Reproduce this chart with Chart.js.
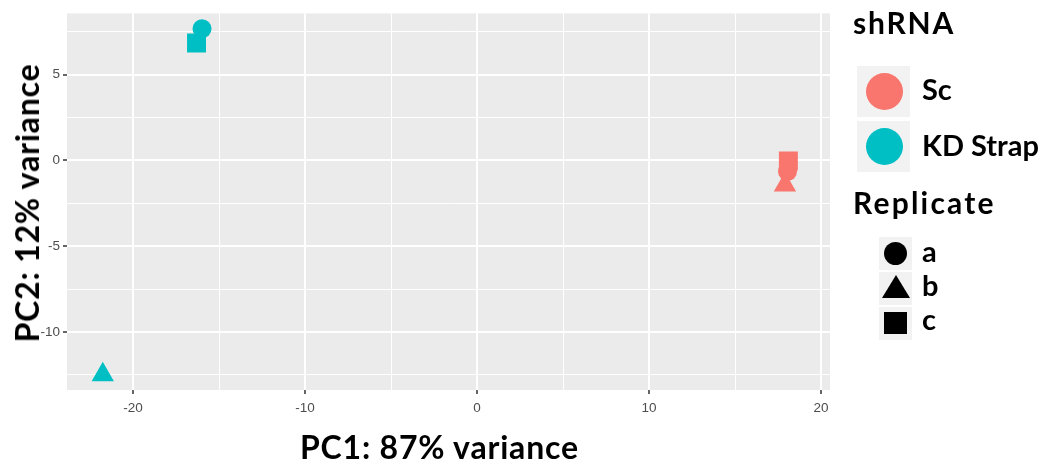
<!DOCTYPE html>
<html>
<head>
<meta charset="utf-8">
<script src="https://cdn.jsdelivr.net/npm/chart.js@4.4.1/dist/chart.umd.min.js"></script>
<style>
  html, body { margin: 0; padding: 0; background: #ffffff; }
  #wrap { position: relative; width: 1042px; height: 466px; overflow: hidden; }
  #c { position: absolute; left: 0; top: 0; }
  .t { position: absolute; font-family: Lato, "Open Sans", sans-serif; font-weight: 700; color: #000; white-space: nowrap; line-height: 1; }
  .box { position: absolute; background: #F2F2F2; }
  .dot { position: absolute; border-radius: 50%; }
  .tri { position: absolute; background: #000; clip-path: polygon(50% 0, 100% 100%, 0 100%); }
  .sq { position: absolute; background: #000; }
</style>
</head>
<body>
<div id="wrap">
  <canvas id="c" width="1042" height="466" style="width:1042px;height:466px"></canvas>
  <div id="xtitle" class="t" style="left:300px;top:431px;font-size:32px;letter-spacing:0.8px;">PC1: 87% variance</div>
  <div id="ytitle" class="t" style="left:27px;top:203px;font-size:32px;letter-spacing:0.8px;transform:translate(-50%,-50%) rotate(-90deg);">PC2: 12% variance</div>
  <div id="legend"></div>
</div>
<script>
// ---- data ----
const shRNA = ['Sc', 'Sc', 'Sc', 'KD Strap', 'KD Strap', 'KD Strap'];
const replicate = ['a', 'b', 'c', 'a', 'b', 'c'];
const pc1 = [18.05, 17.90, 18.10, -15.99, -21.76, -16.31];
const pc2 = [-0.64, -1.43, -0.03, 7.68, -12.49, 6.85];
const shRNALevels = ['Sc', 'KD Strap'];
const replicateLevels = ['a', 'b', 'c'];
const xTickValues = [-20, -15, -10, -5, 0, 5, 10, 15, 20];
const xTickLabels = ['-20', '', '-10', '', '0', '', '10', '', '20'];
const yTickValues = [-12.5, -10, -7.5, -5, -2.5, 0, 2.5, 5, 7.5];
const yTickLabels = ['', '-10', '', '-5', '', '0', '', '5', ''];
const legendTitles = ['shRNA', 'Replicate'];

// ---- styles ----
const groupColors = { 'Sc': '#F8766D', 'KD Strap': '#00BFC4' };
const shapeStyle = { a: 'circle', b: 'triangle', c: 'rect' };
const shapeRadius = { circle: 9.5, triangle: 12.9, rect: 13.4 };

const datasets = shRNALevels.map(g => {
  const idx = shRNA.map((s, i) => s === g ? i : -1).filter(i => i >= 0);
  const styles = idx.map(i => shapeStyle[replicate[i]]);
  return {
    label: g,
    data: idx.map(i => ({ x: pc1[i], y: pc2[i] })),
    pointStyle: styles,
    pointRadius: styles.map(s => shapeRadius[s]),
    backgroundColor: groupColors[g],
    borderColor: groupColors[g],
    pointBorderWidth: 0,
    showLine: false
  };
});

const panelBg = {
  id: 'panelBg',
  beforeDraw(chart) {
    const a = chart.chartArea, ctx = chart.ctx;
    ctx.save();
    ctx.fillStyle = '#EBEBEB';
    ctx.fillRect(a.left, a.top, a.right - a.left, a.bottom - a.top);
    ctx.restore();
  }
};

function gridFor(labelsOf) {
  return {
    color: '#FFFFFF',
    lineWidth: ctx => (ctx.tick && labelsOf(ctx.tick.value) ? 2 : 1),
    drawTicks: true,
    tickLength: 4,
    tickWidth: 1.5,
    tickColor: ctx => (ctx.tick && labelsOf(ctx.tick.value) ? '#333333' : 'rgba(0,0,0,0)')
  };
}
const xLab = v => xTickLabels[xTickValues.indexOf(v)] || '';
const yLab = v => yTickLabels[yTickValues.indexOf(v)] || '';

new Chart(document.getElementById('c'), {
  type: 'scatter',
  data: { datasets },
  plugins: [panelBg],
  options: {
    responsive: false,
    animation: false,
    events: [],
    layout: { padding: { left: 0, top: 11, right: 212, bottom: 0 } },
    plugins: { legend: { display: false }, tooltip: { enabled: false } },
    scales: {
      x: {
        type: 'linear',
        min: -23.84, max: 20.52,
        afterBuildTicks: s => { s.ticks = xTickValues.map(v => ({ value: v })); },
        afterFit: s => { s.height = 76; },
        border: { display: false },
        grid: gridFor(xLab),
        ticks: {
          autoSkip: false, maxRotation: 0,
          padding: 6,
          color: '#4D4D4D',
          font: { family: 'Liberation Sans', size: 13.5 },
          callback: v => xLab(v)
        }
      },
      y: {
        type: 'linear',
        min: -13.38, max: 8.57,
        afterBuildTicks: s => { s.ticks = yTickValues.map(v => ({ value: v })); },
        afterFit: s => { s.width = 67; },
        border: { display: false },
        grid: gridFor(yLab),
        ticks: {
          autoSkip: false,
          padding: 3,
          color: '#4D4D4D',
          font: { family: 'Liberation Sans', size: 13.5 },
          callback: v => yLab(v)
        }
      }
    }
  }
});

// ---- legend (HTML) ----
const lg = document.getElementById('legend');
function add(html) { lg.insertAdjacentHTML('beforeend', html); }
add(`<div class="t" style="left:853px;top:7px;font-size:30px;letter-spacing:1.8px;">${legendTitles[0]}</div>`);
shRNALevels.forEach((g, i) => {
  const top = 66 + i * 55;
  add(`<div class="box" style="left:857px;top:${top}px;width:53px;height:51px;"></div>`);
  add(`<div class="dot" style="left:866px;top:${top + 7}px;width:37px;height:37px;background:${groupColors[g]};"></div>`);
  add(`<div class="t" style="left:922px;top:${74 + i * 56}px;font-size:29px;">${g}</div>`);
});
add(`<div class="t" style="left:853px;top:186.5px;font-size:30px;letter-spacing:2.2px;">${legendTitles[1]}</div>`);
replicateLevels.forEach((r, i) => {
  const top = 237 + i * 35;
  add(`<div class="box" style="left:879px;top:${top}px;width:33px;height:33px;"></div>`);
  const st = shapeStyle[r];
  if (st === 'circle') add(`<div class="dot" style="left:884px;top:${top + 5}px;width:23px;height:23px;background:#000;"></div>`);
  else if (st === 'triangle') add(`<div class="tri" style="left:882px;top:${top + 3}px;width:28px;height:23px;"></div>`);
  else add(`<div class="sq" style="left:884px;top:${top + 5}px;width:23px;height:22px;"></div>`);
  add(`<div class="t" style="left:922px;top:${236 + i * 34}px;font-size:29px;">${r}</div>`);
});
</script>
</body>
</html>
